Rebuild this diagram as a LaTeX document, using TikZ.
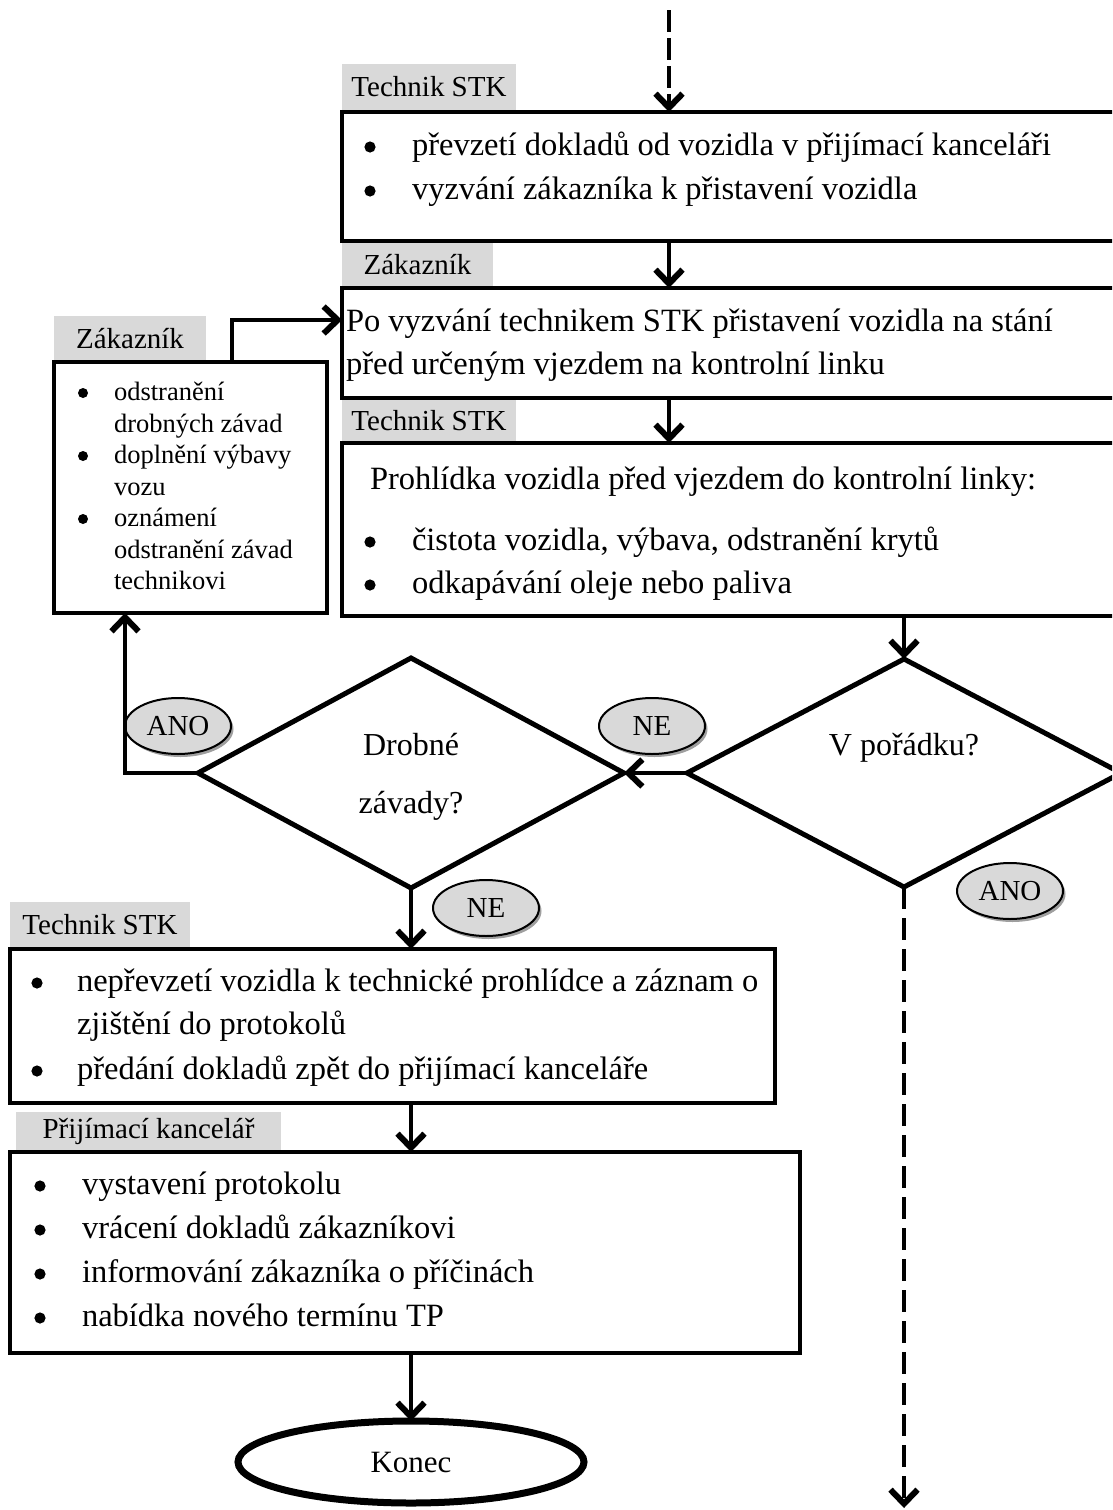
\documentclass[tikz,border=0pt]{standalone}
\usepackage{fontspec}
\setmainfont{Liberation Serif}
\usetikzlibrary{arrows.meta,shapes.geometric,shadows}
\definecolor{lblgray}{HTML}{D9D9D9}
\newcommand\mainfs{\fontsize{32.5}{44}\selectfont}
\newcommand\lblfs{\fontsize{29}{36}\selectfont}
\newcommand\smallfs{\fontsize{26.5}{31.5}\selectfont}
\tikzset{
 box/.style={draw, line width=3.2pt, anchor=north west, inner sep=0pt, outer sep=0pt},
 lbl/.style={fill=lblgray, anchor=north west, inner sep=0pt, outer sep=0pt, font=\lblfs},
 txt/.style={anchor=base west, inner sep=0pt, outer sep=0pt, font=\mainfs},
 stxt/.style={anchor=base west, inner sep=0pt, outer sep=0pt, font=\smallfs},
 dec/.style={diamond, draw, line width=5pt, inner sep=0pt, outer sep=0pt},
 ctxt/.style={anchor=base, inner sep=0pt, outer sep=0pt, font=\fontsize{32}{40}\selectfont},
 bub/.style={ellipse, draw, line width=2pt, fill=lblgray, minimum width=106pt, minimum height=56pt,
   inner sep=0pt, outer sep=0pt, font=\lblfs,
   drop shadow={shadow xshift=2.5pt, shadow yshift=-3pt, fill=gray!75, opacity=1}},
 arr/.style={line width=4.5pt, -{Straight Barb[length=14pt,width=27pt,line width=6pt]}},
 dsh/.style={dash pattern=on 22pt off 9pt},
 dshtop/.style={dash pattern=on 22pt off 6pt},
}
\begin{document}
\begin{tikzpicture}[x=1pt,y=-1pt]
\clip (0,0) rectangle (1112,1510);
\fill[white] (0,0) rectangle (1112,1510);

% helper coordinates
\coordinate (start) at (669,10);
\coordinate (cx) at (669,0);
\coordinate (cl) at (125,0);
\coordinate (k) at (232,320);
\coordinate (fin) at (904,1508);

% labels
\node[lbl, minimum width=174pt, minimum height=46pt] (l1) at (342,64) {Technik STK};
\node[lbl, minimum width=151pt, minimum height=43pt] (l2) at (342,243) {Zákazník};
\node[lbl, minimum width=174pt, minimum height=42pt] (l3) at (342,400) {Technik STK};
\node[lbl, minimum width=152pt, minimum height=46pt] (l4) at (54,316) {Zákazník};
\node[lbl, minimum width=180pt, minimum height=45pt] (l5) at (10,902) {Technik STK};
\node[lbl, minimum width=265pt, minimum height=38pt] (l6) at (16,1112) {Přijímací kancelář};

% boxes
\node[box, minimum width=800pt, minimum height=129pt] (b1) at (342,112) {};
\node[box, minimum width=800pt, minimum height=110pt] (b2) at (342,288) {};
\node[box, minimum width=800pt, minimum height=173pt] (b3) at (342,443) {};
\node[box, minimum width=273pt, minimum height=251pt] (b4) at (54,362) {};
\node[box, minimum width=765pt, minimum height=154pt] (b5) at (10,949) {};
\node[box, minimum width=790pt, minimum height=201pt] (b6) at (10,1152) {};

% box texts
\node[txt] (t1a) at (412,155) {převzetí dokladů od vozidla v přijímací kanceláři};
\node[txt] (t1b) at (412,199) {vyzvání zákazníka k přistavení vozidla};

\node[txt] (t2a) at (346,331) {Po vyzvání technikem STK přistavení vozidla na stání};
\node[txt] (t2b) at (346,374) {před určeným vjezdem na kontrolní linku};

\node[txt] (t3a) at (370,489) {Prohlídka vozidla před vjezdem do kontrolní linky:};
\node[txt] (t3b) at (412,550) {čistota vozidla, výbava, odstranění krytů};
\node[txt] (t3c) at (412,593) {odkapávání oleje nebo paliva};

\node[stxt] (t4a) at (114,400) {odstranění};
\node[stxt] (t4b) at (114,432) {drobných závad};
\node[stxt] (t4c) at (114,463) {doplnění výbavy};
\node[stxt] (t4d) at (114,495) {vozu};
\node[stxt] (t4e) at (114,526) {oznámení};
\node[stxt] (t4f) at (114,558) {odstranění závad};
\node[stxt] (t4g) at (114,589) {technikovi};

\node[txt] (t5a) at (77,991) {nepřevzetí vozidla k technické prohlídce a záznam o};
\node[txt] (t5b) at (77,1034) {zjištění do protokolů};
\node[txt] (t5c) at (77,1079) {předání dokladů zpět do přijímací kanceláře};

\node[txt] (t6a) at (82,1194) {vystavení protokolu};
\node[txt] (t6b) at (82,1238) {vrácení dokladů zákazníkovi};
\node[txt] (t6c) at (82,1282) {informování zákazníka o příčinách};
\node[txt] (t6d) at (82,1326) {nabídka nového termínu TP};

% bullets
\foreach \n in {t1a,t1b,t3b,t3c,t6a,t6b,t6c,t6d}
  \fill ([xshift=-42pt,yshift=8pt]\n.base west) circle (5.6pt);
\foreach \n in {t5a,t5c}
  \fill ([xshift=-40pt,yshift=8pt]\n.base west) circle (5.6pt);
\foreach \n in {t4a,t4c,t4e}
  \fill ([xshift=-31pt,yshift=7pt]\n.base west) circle (5pt);

% decisions
\node[dec, minimum width=434pt, minimum height=228pt] (d1) at (904,773) {};
\node[dec, minimum width=426pt, minimum height=230pt] (d2) at (411,773) {};
\node[ctxt] (d1t) at (904,755) {V pořádku?};
\node[ctxt] (d2t) at (411,755) {Drobné};
\node[ctxt] (d2u) at (411,813) {závady?};

% bubbles
\node[bub] (ne1) at (652,726) {NE};
\node[bub] (ano1) at (178,726) {ANO};
\node[bub] (ne2) at (486,908) {NE};
\node[bub] (ano2) at (1010,891) {ANO};

% end
\node[ellipse, draw, line width=7pt, minimum width=346pt, minimum height=82pt, inner sep=0pt, outer sep=0pt, font=\fontsize{31}{38}\selectfont] (konec) at (411,1462) {Konec};

% connectors
\draw[arr, dshtop] (start) -- (start |- b1.north);
\draw[arr] (cx |- b1.south) -- (cx |- b2.north);
\draw[arr] (cx |- b2.south) -- (cx |- b3.north);
\draw[arr] (d1.north |- b3.south) -- (d1.north);
\draw[arr] (d1.west) -- (d2.east);
\draw[arr] (d2.west) -| (cl |- b4.south);
\draw[arr] (k |- b4.north) -- (k) -- (k -| b2.west);
\draw[arr] (d2.south) -- (d2.south |- b5.north);
\draw[arr] (d2.south |- b5.south) -- (d2.south |- b6.north);
\draw[arr] (d2.south |- b6.south) -- (konec.north);
\draw[arr, dsh] (d1.south) -- (fin);
\end{tikzpicture}
\end{document}
